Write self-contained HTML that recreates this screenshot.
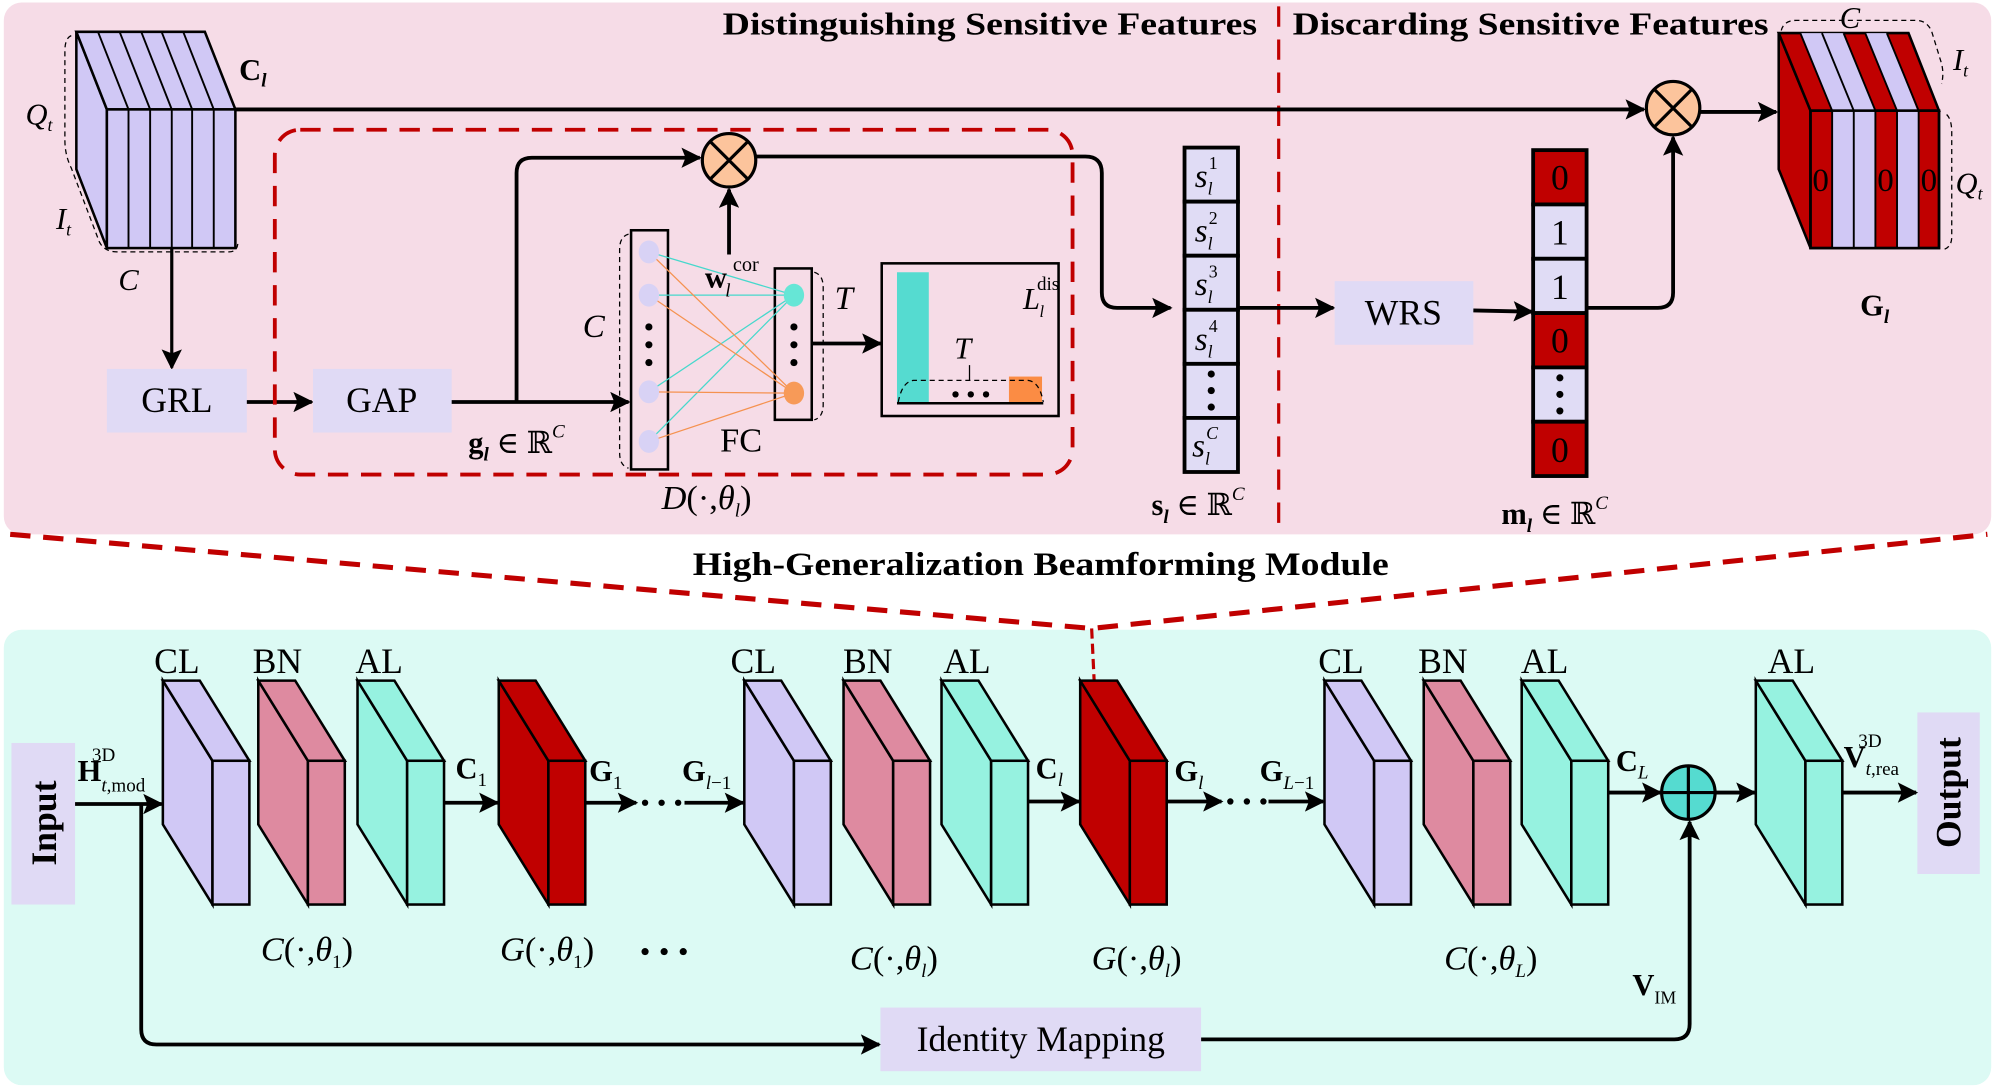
<!DOCTYPE html>
<html><head><meta charset="utf-8"><style>
html,body{margin:0;padding:0;background:#fff;}
svg{display:block;}
text{font-family:"Liberation Serif","DejaVu Serif",serif;fill:#000;}
.it{font-style:italic;}
.b{font-weight:bold;}
</style></head><body>
<svg width="1995" height="1089" viewBox="0 0 1568 856" preserveAspectRatio="none" xmlns="http://www.w3.org/2000/svg">
<defs>
<marker id="ar" viewBox="0 0 10 10" refX="9" refY="5" markerWidth="18" markerHeight="16" markerUnits="userSpaceOnUse" orient="auto"><path d="M0,0 L10,5 L0,10 L2,5 z" fill="#000"/></marker>
</defs>
<rect x="3" y="2" width="1562" height="418" rx="14" fill="#f6dce7"/>
<rect x="3" y="495" width="1562" height="358" rx="14" fill="#dcfaf4"/>
<path d="M8,420 L858,494 L1562,420" fill="none" stroke="#c00000" stroke-width="4" stroke-dasharray="16,10"/>
<path d="M858,494 L860,536" fill="none" stroke="#c00000" stroke-width="2.5" stroke-dasharray="8,4"/>
<text x="818" y="452" font-size="26" class="b" text-anchor="middle" textLength="547" lengthAdjust="spacingAndGlyphs">High-Generalization Beamforming Module</text>
<text x="568" y="27" font-size="25" class="b" textLength="420" lengthAdjust="spacingAndGlyphs">Distinguishing Sensitive Features</text>
<text x="1016" y="27" font-size="25" class="b" textLength="374" lengthAdjust="spacingAndGlyphs">Discarding Sensitive Features</text>
<line x1="1005" y1="5" x2="1005" y2="420" stroke="#c00000" stroke-width="2.5" stroke-dasharray="16,10"/>

<path d="M56,28 Q51,30 51,40 L51,110 Q51,122 56,132 L78,190 Q82,198 92,198 L180,198 Q187,198 187,190" fill="none" stroke="#000" stroke-width="1" stroke-dasharray="4,3"/>
<polygon points="60,25 84,86 84,195 60,133" fill="#d0c8f5" stroke="#000" stroke-width="2"/>
<polygon points="60,25 161,25 185,86 84,86" fill="#d0c8f5" stroke="#000" stroke-width="2"/>
<rect x="84" y="86" width="101" height="109" fill="#d0c8f5" stroke="#000" stroke-width="2"/>
<g stroke="#000" stroke-width="1.5">
<line x1="101" y1="86" x2="101" y2="195"/><line x1="118" y1="86" x2="118" y2="195"/><line x1="135" y1="86" x2="135" y2="195"/><line x1="151" y1="86" x2="151" y2="195"/><line x1="168" y1="86" x2="168" y2="195"/>
<line x1="77" y1="25" x2="101" y2="86"/><line x1="94" y1="25" x2="118" y2="86"/><line x1="111" y1="25" x2="135" y2="86"/><line x1="127" y1="25" x2="151" y2="86"/><line x1="144" y1="25" x2="168" y2="86"/>
</g>
<text x="188" y="63" font-size="24" class="b">C<tspan font-size="15" class="it" dy="5">l</tspan></text>
<text x="20" y="98" font-size="24" class="it">Q<tspan font-size="14" dy="5">t</tspan></text>
<text x="44" y="180" font-size="24" class="it">I<tspan font-size="14" dy="5">t</tspan></text>
<text x="93" y="228" font-size="24" class="it">C</text>

<line x1="185" y1="86" x2="1292" y2="86" stroke="#000" stroke-width="3" marker-end="url(#ar)"/>
<line x1="135" y1="195" x2="135" y2="289" stroke="#000" stroke-width="2.5" marker-end="url(#ar)"/>
<rect x="84" y="290" width="110" height="50" fill="#e0daf5"/>
<text x="139" y="324" font-size="28" text-anchor="middle">GRL</text>
<line x1="194" y1="316" x2="245" y2="316" stroke="#000" stroke-width="3" marker-end="url(#ar)"/>
<rect x="246" y="290" width="109" height="50" fill="#e0daf5"/>
<text x="300" y="324" font-size="28" text-anchor="middle">GAP</text>
<rect x="216" y="102" width="627" height="271" rx="20" fill="none" stroke="#c00000" stroke-width="3" stroke-dasharray="16,10"/>
<line x1="355" y1="316" x2="494" y2="316" stroke="#000" stroke-width="3" marker-end="url(#ar)"/>
<path d="M406,316 L406,136 Q406,124 418,124 L550,124" fill="none" stroke="#000" stroke-width="3" marker-end="url(#ar)"/>
<circle cx="573" cy="126" r="21" fill="#fcc49c" stroke="#000" stroke-width="2.5"/>
<path d="M558,111 L588,141 M588,111 L558,141" stroke="#000" stroke-width="2.5"/>
<line x1="573" y1="200" x2="573" y2="149" stroke="#000" stroke-width="3" marker-end="url(#ar)"/>
<path d="M594,123 L853,123 Q866,123 866,136 L866,230 Q866,242 878,242 L920,242" fill="none" stroke="#000" stroke-width="3" marker-end="url(#ar)"/>
<path d="M494,184 Q487,186 487,196 L487,356 Q487,366 494,368" fill="none" stroke="#000" stroke-width="1" stroke-dasharray="4,3"/>
<rect x="496" y="181" width="29" height="188" fill="none" stroke="#000" stroke-width="2"/>
<rect x="609" y="211" width="29" height="119" fill="none" stroke="#000" stroke-width="2"/>
<path d="M640,214 Q647,216 647,226 L647,318 Q647,328 640,330" fill="none" stroke="#000" stroke-width="1" stroke-dasharray="4,3"/>
<g stroke-width="1">
<g stroke="#46d8cc">
<line x1="510" y1="198" x2="624" y2="232"/><line x1="510" y1="232" x2="624" y2="232"/><line x1="510" y1="308" x2="624" y2="232"/><line x1="510" y1="347" x2="624" y2="232"/>
</g>
<g stroke="#f59250">
<line x1="510" y1="198" x2="624" y2="309"/><line x1="510" y1="232" x2="624" y2="309"/><line x1="510" y1="308" x2="624" y2="309"/><line x1="510" y1="347" x2="624" y2="309"/>
</g>
</g>
<g fill="#d8d2f5"><ellipse cx="510" cy="198" rx="8" ry="9"/><ellipse cx="510" cy="232" rx="8" ry="9"/><ellipse cx="510" cy="308" rx="8" ry="9"/><ellipse cx="510" cy="347" rx="8" ry="9"/></g>
<ellipse cx="624" cy="232" rx="8" ry="9" fill="#66e6d6"/>
<ellipse cx="624" cy="309" rx="8" ry="9" fill="#f79a58"/>
<g fill="#000"><circle cx="510" cy="257" r="2.8"/><circle cx="510" cy="271" r="2.8"/><circle cx="510" cy="285" r="2.8"/><circle cx="624" cy="257" r="2.8"/><circle cx="624" cy="271" r="2.8"/><circle cx="624" cy="285" r="2.8"/></g>
<text x="458" y="265" font-size="26" class="it">C</text>
<text x="656" y="243" font-size="26" class="it">T</text>
<text x="554" y="226" font-size="24" class="b">w</text>
<text x="570" y="233" font-size="15" class="it">l</text>
<text x="576" y="213" font-size="16">cor</text>
<text x="566" y="355" font-size="27">FC</text>
<text x="368" y="356" font-size="24" class="b">g<tspan font-size="15" class="it" dy="6">l</tspan><tspan dy="-6" font-weight="normal"> ∈ ℝ</tspan><tspan font-size="15" class="it" font-weight="normal" dy="-12">C</tspan></text>
<text x="520" y="400" font-size="27" class="it">D<tspan font-style="normal">(·,</tspan>θ<tspan font-size="15" dy="6">l</tspan><tspan font-style="normal" dy="-6">)</tspan></text>
<line x1="638" y1="270" x2="692" y2="270" stroke="#000" stroke-width="3" marker-end="url(#ar)"/>
<rect x="693" y="207" width="139" height="120" fill="none" stroke="#000" stroke-width="2"/>
<rect x="705" y="214" width="25" height="103" fill="#55dbd0"/>
<rect x="793" y="296" width="26" height="21" fill="#fb8c44"/>
<line x1="705" y1="317" x2="820" y2="317" stroke="#000" stroke-width="2"/>
<path d="M706,316 Q709,300 718,299 L808,299 Q817,300 820,316" fill="none" stroke="#000" stroke-width="1" stroke-dasharray="4,3"/>
<line x1="762" y1="287" x2="762" y2="299" stroke="#000" stroke-width="1"/>
<text x="750" y="282" font-size="24" class="it">T</text>
<g fill="#000"><circle cx="751" cy="310" r="2.5"/><circle cx="763" cy="310" r="2.5"/><circle cx="775" cy="310" r="2.5"/></g>
<text x="804" y="243" font-size="24" class="it">L</text>
<text x="817" y="249" font-size="13" class="it">l</text>
<text x="815" y="228" font-size="15">dis</text>
<g stroke="#000" stroke-width="3" fill="#e0dcf5">
<rect x="931" y="116" width="42" height="42.5"/><rect x="931" y="158.5" width="42" height="42.5"/><rect x="931" y="201" width="42" height="42.5"/><rect x="931" y="243.5" width="42" height="42.5"/><rect x="931" y="286" width="42" height="42.5"/><rect x="931" y="328.5" width="42" height="42.5"/>
</g>
<g font-size="26" class="it">
<text x="939" y="147">s<tspan font-size="14" dy="6">l</tspan><tspan font-size="14" font-style="normal" dx="-3" dy="-20">1</tspan></text>
<text x="939" y="190">s<tspan font-size="14" dy="6">l</tspan><tspan font-size="14" font-style="normal" dx="-3" dy="-20">2</tspan></text>
<text x="939" y="232">s<tspan font-size="14" dy="6">l</tspan><tspan font-size="14" font-style="normal" dx="-3" dy="-20">3</tspan></text>
<text x="939" y="275">s<tspan font-size="14" dy="6">l</tspan><tspan font-size="14" font-style="normal" dx="-3" dy="-20">4</tspan></text>
<text x="937" y="359">s<tspan font-size="14" dy="6">l</tspan><tspan font-size="14" dx="-3" dy="-20">C</tspan></text>
</g>
<g fill="#000"><circle cx="952" cy="294" r="2.8"/><circle cx="952" cy="307" r="2.8"/><circle cx="952" cy="320" r="2.8"/></g>
<text x="905" y="405" font-size="24" class="b">s<tspan font-size="15" class="it" dy="6">l</tspan><tspan dy="-6" font-weight="normal"> ∈ ℝ</tspan><tspan font-size="15" class="it" font-weight="normal" dy="-12">C</tspan></text>
<line x1="973" y1="242" x2="1048" y2="242" stroke="#000" stroke-width="3" marker-end="url(#ar)"/>
<rect x="1049" y="221" width="109" height="50" fill="#e0daf5"/>
<text x="1103" y="255" font-size="28" text-anchor="middle">WRS</text>
<line x1="1158" y1="244" x2="1204" y2="245" stroke="#000" stroke-width="3" marker-end="url(#ar)"/>
<g stroke="#000" stroke-width="3">
<rect x="1205" y="118" width="42" height="42.7" fill="#c00000"/><rect x="1205" y="160.7" width="42" height="42.7" fill="#e0dcf5"/><rect x="1205" y="203.4" width="42" height="42.7" fill="#e0dcf5"/><rect x="1205" y="246.1" width="42" height="42.7" fill="#c00000"/><rect x="1205" y="288.8" width="42" height="42.7" fill="#e0dcf5"/><rect x="1205" y="331.5" width="42" height="42.7" fill="#c00000"/>
</g>
<g font-size="28" text-anchor="middle">
<text x="1226" y="149">0</text><text x="1226" y="192">1</text><text x="1226" y="235">1</text><text x="1226" y="277">0</text><text x="1226" y="363">0</text>
</g>
<g fill="#000"><circle cx="1226" cy="297" r="2.8"/><circle cx="1226" cy="310" r="2.8"/><circle cx="1226" cy="323" r="2.8"/></g>
<text x="1180" y="412" font-size="24" class="b">m<tspan font-size="15" class="it" dy="6">l</tspan><tspan dy="-6" font-weight="normal"> ∈ ℝ</tspan><tspan font-size="15" class="it" font-weight="normal" dy="-12">C</tspan></text>
<path d="M1247,242 L1303,242 Q1315,242 1315,230 L1315,108" fill="none" stroke="#000" stroke-width="3" marker-end="url(#ar)"/>
<circle cx="1315" cy="85" r="21" fill="#fcc49c" stroke="#000" stroke-width="2.5"/>
<path d="M1300,70 L1330,100 M1330,70 L1300,100" stroke="#000" stroke-width="2.5"/>
<line x1="1336" y1="88" x2="1396" y2="88" stroke="#000" stroke-width="3" marker-end="url(#ar)"/>
<path d="M1400,24 Q1402,16 1412,16 L1506,16 Q1514,16 1518,24 L1526,50 Q1528,58 1526,66 M1530,90 Q1534,94 1534,104 L1534,186 Q1534,194 1528,196" fill="none" stroke="#000" stroke-width="1" stroke-dasharray="4,3"/>
<polygon points="1398,26 1423,87 1423,195 1398,133" fill="#c00000" stroke="#000" stroke-width="2"/>
<polygon points="1398,26 1500,26 1524,87 1423,87" fill="#c00000" stroke="#000" stroke-width="2"/>
<polygon points="1415,26 1432,26 1457,87 1440,87" fill="#d0c8f5"/>
<polygon points="1432,26 1449,26 1474,87 1457,87" fill="#d0c8f5"/>
<polygon points="1466,26 1483,26 1507,87 1491,87" fill="#d0c8f5"/>
<rect x="1423" y="87" width="101" height="108" fill="#c00000" stroke="#000" stroke-width="2"/>
<rect x="1440" y="87" width="34" height="108" fill="#d0c8f5"/>
<rect x="1491" y="87" width="17" height="108" fill="#d0c8f5"/>
<g stroke="#000" stroke-width="1.5">
<line x1="1440" y1="87" x2="1440" y2="195"/><line x1="1457" y1="87" x2="1457" y2="195"/><line x1="1474" y1="87" x2="1474" y2="195"/><line x1="1491" y1="87" x2="1491" y2="195"/><line x1="1508" y1="87" x2="1508" y2="195"/>
<line x1="1415" y1="26" x2="1440" y2="87"/><line x1="1432" y1="26" x2="1457" y2="87"/><line x1="1449" y1="26" x2="1474" y2="87"/><line x1="1466" y1="26" x2="1491" y2="87"/><line x1="1483" y1="26" x2="1508" y2="87"/>
</g>
<rect x="1423" y="87" width="101" height="108" fill="none" stroke="#000" stroke-width="2"/>
<g font-size="26" text-anchor="middle"><text x="1431" y="150">0</text><text x="1482" y="150">0</text><text x="1516" y="150">0</text></g>
<text x="1446" y="22" font-size="24" class="it">C</text>
<text x="1535" y="55" font-size="24" class="it">I<tspan font-size="14" dy="5">t</tspan></text>
<text x="1537" y="152" font-size="24" class="it">Q<tspan font-size="14" dy="5">t</tspan></text>
<text x="1462" y="248" font-size="24" class="b">G<tspan font-size="15" class="it" dy="6">l</tspan></text>

<rect x="9" y="584" width="50" height="127" fill="#e0daf5"/>
<text transform="translate(44,647) rotate(-90)" font-size="28" class="b" text-anchor="middle">Input</text>
<rect x="1507" y="560" width="49" height="127" fill="#e0daf5"/>
<text transform="translate(1541,623) rotate(-90)" font-size="28" class="b" text-anchor="middle">Output</text>

<g stroke="#000" stroke-width="2">
<g fill="#d0c8f5"><polygon points="128,535 167,598 167,711 128,648"/><polygon points="128,535 157,535 196,598 167,598"/><rect x="167" y="598" width="29" height="113"/></g>
<g fill="#de8aa0"><polygon points="203,535 242,598 242,711 203,648"/><polygon points="203,535 232,535 271,598 242,598"/><rect x="242" y="598" width="29" height="113"/></g>
<g fill="#96f2e0"><polygon points="281,535 320,598 320,711 281,648"/><polygon points="281,535 310,535 349,598 320,598"/><rect x="320" y="598" width="29" height="113"/></g>
<g fill="#c00000"><polygon points="392,535 431,598 431,711 392,648"/><polygon points="392,535 421,535 460,598 431,598"/><rect x="431" y="598" width="29" height="113"/></g>
<g fill="#d0c8f5"><polygon points="585,535 624,598 624,711 585,648"/><polygon points="585,535 614,535 653,598 624,598"/><rect x="624" y="598" width="29" height="113"/></g>
<g fill="#de8aa0"><polygon points="663,535 702,598 702,711 663,648"/><polygon points="663,535 692,535 731,598 702,598"/><rect x="702" y="598" width="29" height="113"/></g>
<g fill="#96f2e0"><polygon points="740,535 779,598 779,711 740,648"/><polygon points="740,535 769,535 808,598 779,598"/><rect x="779" y="598" width="29" height="113"/></g>
<g fill="#c00000"><polygon points="849,535 888,598 888,711 849,648"/><polygon points="849,535 878,535 917,598 888,598"/><rect x="888" y="598" width="29" height="113"/></g>
<g fill="#d0c8f5"><polygon points="1041,535 1080,598 1080,711 1041,648"/><polygon points="1041,535 1070,535 1109,598 1080,598"/><rect x="1080" y="598" width="29" height="113"/></g>
<g fill="#de8aa0"><polygon points="1119,535 1158,598 1158,711 1119,648"/><polygon points="1119,535 1148,535 1187,598 1158,598"/><rect x="1158" y="598" width="29" height="113"/></g>
<g fill="#96f2e0"><polygon points="1196,535 1235,598 1235,711 1196,648"/><polygon points="1196,535 1225,535 1264,598 1235,598"/><rect x="1235" y="598" width="29" height="113"/></g>
<g fill="#96f2e0"><polygon points="1380,535 1419,598 1419,711 1380,648"/><polygon points="1380,535 1409,535 1448,598 1419,598"/><rect x="1419" y="598" width="29" height="113"/></g>
</g>
<g font-size="28" text-anchor="middle">
<text x="139" y="529">CL</text><text x="218" y="529">BN</text><text x="298" y="529">AL</text>
<text x="592" y="529">CL</text><text x="682" y="529">BN</text><text x="760" y="529">AL</text>
<text x="1054" y="529">CL</text><text x="1134" y="529">BN</text><text x="1214" y="529">AL</text>
<text x="1408" y="529">AL</text>
</g>
<g stroke="#000" stroke-width="3" fill="none">
<line x1="59" y1="632" x2="127" y2="632" marker-end="url(#ar)"/>
<path d="M111,632 L111,809 Q111,821 123,821 L691,821" marker-end="url(#ar)"/>
<line x1="349" y1="631" x2="391" y2="631" marker-end="url(#ar)"/>
<line x1="460" y1="631" x2="500" y2="631" marker-end="url(#ar)"/>
<line x1="538" y1="631" x2="584" y2="631" marker-end="url(#ar)"/>
<line x1="808" y1="630" x2="848" y2="630" marker-end="url(#ar)"/>
<line x1="917" y1="630" x2="960" y2="630" marker-end="url(#ar)"/>
<line x1="997" y1="630" x2="1040" y2="630" marker-end="url(#ar)"/>
<line x1="1264" y1="623" x2="1305" y2="623" marker-end="url(#ar)"/>
<line x1="1348" y1="623" x2="1379" y2="623" marker-end="url(#ar)"/>
<line x1="1448" y1="623" x2="1506" y2="623" marker-end="url(#ar)"/>
<path d="M944,817 L1316,817 Q1328,817 1328,805 L1328,646" marker-end="url(#ar)"/>
</g>
<g fill="#000"><circle cx="507" cy="631" r="2.5"/><circle cx="520" cy="631" r="2.5"/><circle cx="533" cy="631" r="2.5"/><circle cx="967" cy="630" r="2.5"/><circle cx="980" cy="630" r="2.5"/><circle cx="993" cy="630" r="2.5"/></g>
<circle cx="1327" cy="623" r="21" fill="#55dbd0" stroke="#000" stroke-width="2.5"/>
<path d="M1306,623 L1348,623 M1327,602 L1327,644" stroke="#000" stroke-width="2.5"/>
<rect x="692" y="792" width="252" height="50" fill="#e0daf5"/>
<text x="818" y="826" font-size="28" text-anchor="middle">Identity Mapping</text>
<text x="61" y="614" font-size="24" class="b">H<tspan font-size="15" font-weight="normal" class="it" dy="8">t</tspan><tspan font-size="15" font-weight="normal">,mod</tspan><tspan font-size="15" font-weight="normal" dx="-42" dy="-24">3D</tspan></text>
<text x="358" y="612" font-size="24" class="b">C<tspan font-size="15" font-weight="normal" dy="6">1</tspan></text>
<text x="463" y="614" font-size="24" class="b">G<tspan font-size="15" font-weight="normal" dy="6">1</tspan></text>
<text x="536" y="614" font-size="24" class="b">G<tspan font-size="15" font-weight="normal" class="it" dy="6">l</tspan><tspan font-size="15" font-weight="normal">−1</tspan></text>
<text x="814" y="612" font-size="24" class="b">C<tspan font-size="15" font-weight="normal" class="it" dy="6">l</tspan></text>
<text x="923" y="614" font-size="24" class="b">G<tspan font-size="15" font-weight="normal" class="it" dy="6">l</tspan></text>
<text x="990" y="614" font-size="24" class="b">G<tspan font-size="15" font-weight="normal" class="it" dy="6">L</tspan><tspan font-size="15" font-weight="normal">−1</tspan></text>
<text x="1270" y="606" font-size="24" class="b">C<tspan font-size="15" font-weight="normal" class="it" dy="6">L</tspan></text>
<text x="1449" y="603" font-size="24" class="b">V<tspan font-size="15" font-weight="normal" class="it" dy="6">t</tspan><tspan font-size="15" font-weight="normal">,rea</tspan><tspan font-size="15" font-weight="normal" dx="-32" dy="-22">3D</tspan></text>
<text x="1283" y="782" font-size="24" class="b">V<tspan font-size="14" font-weight="normal" dy="7">IM</tspan></text>
<g font-size="27" class="it">
<text x="205" y="755">C<tspan font-style="normal">(·,</tspan>θ<tspan font-size="15" font-style="normal" dy="6">1</tspan><tspan font-style="normal" dy="-6">)</tspan></text>
<text x="393" y="755">G<tspan font-style="normal">(·,</tspan>θ<tspan font-size="15" font-style="normal" dy="6">1</tspan><tspan font-style="normal" dy="-6">)</tspan></text>
<text x="668" y="762">C<tspan font-style="normal">(·,</tspan>θ<tspan font-size="15" dy="6">l</tspan><tspan font-style="normal" dy="-6">)</tspan></text>
<text x="858" y="762">G<tspan font-style="normal">(·,</tspan>θ<tspan font-size="15" dy="6">l</tspan><tspan font-style="normal" dy="-6">)</tspan></text>
<text x="1135" y="762">C<tspan font-style="normal">(·,</tspan>θ<tspan font-size="15" dy="6">L</tspan><tspan font-style="normal" dy="-6">)</tspan></text>
</g>
<g fill="#000"><circle cx="507" cy="748" r="2.8"/><circle cx="522" cy="748" r="2.8"/><circle cx="537" cy="748" r="2.8"/></g>
</svg>
</body></html>
